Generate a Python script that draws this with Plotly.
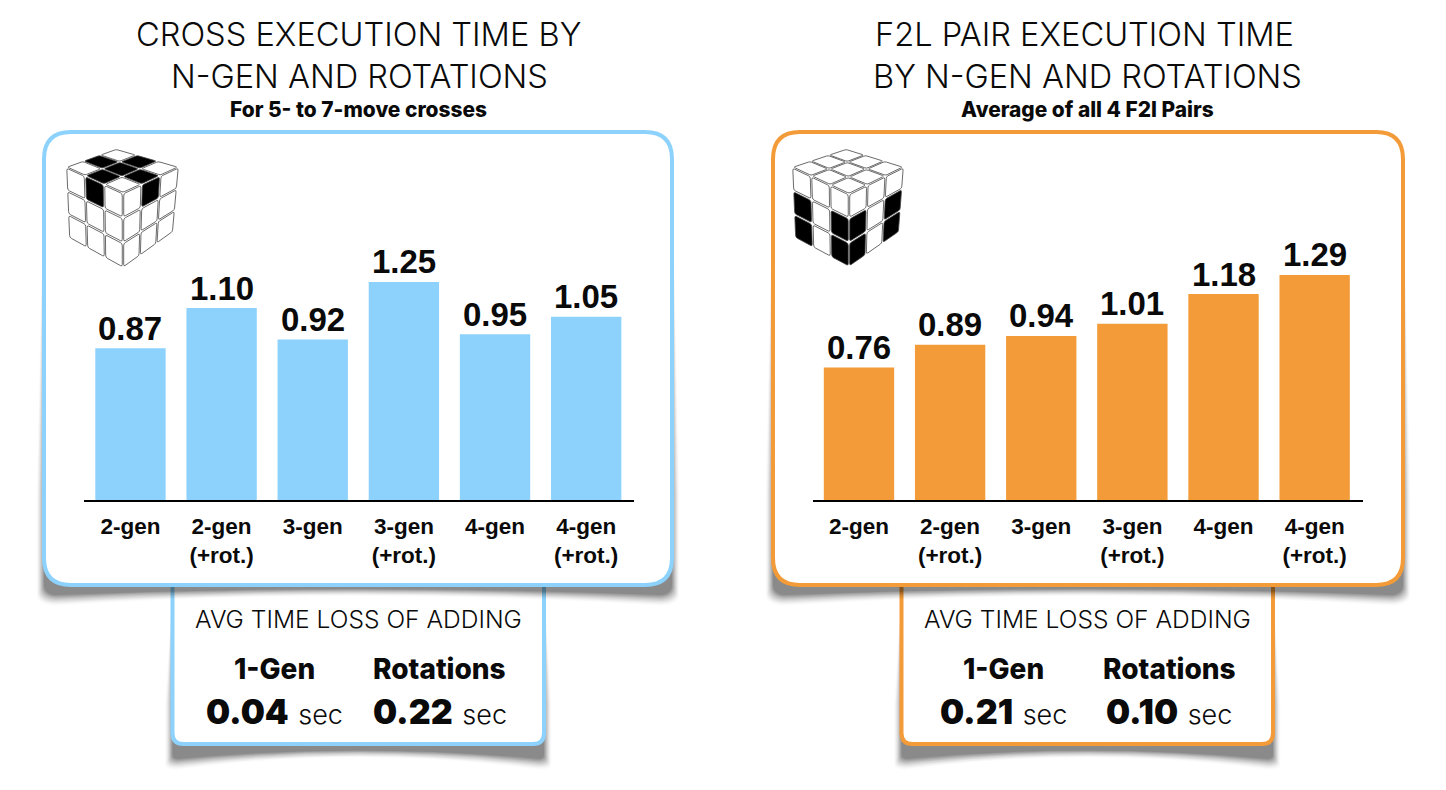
import plotly.graph_objects as go

W, H = 1446, 790

categories = ["2-gen", "2-gen<br>(+rot.)", "3-gen", "3-gen<br>(+rot.)", "4-gen", "4-gen<br>(+rot.)"]
cross_values = [0.87, 1.10, 0.92, 1.25, 0.95, 1.05]
f2l_values = [0.76, 0.89, 0.94, 1.01, 1.18, 1.29]
cross_title = ["CROSS EXECUTION TIME BY", "N-GEN AND ROTATIONS"]
f2l_title = ["F2L PAIR EXECUTION TIME", "BY N-GEN AND ROTATIONS"]
cross_subtitle = "For 5- to 7-move crosses"
f2l_subtitle = "Average of all 4 F2l Pairs"
loss_heading = "AVG TIME LOSS OF ADDING"
loss_labels = ["1-Gen", "Rotations"]
cross_loss = ["0.04", "0.22"]
f2l_loss = ["0.21", "0.10"]

BLUE = "#8dd2fc"
ORANGE = "#f39b38"
HEAD_FONT = "Inter"
BAR_FONT = "Liberation Sans"


def px(x):
    return x / W


def py(y):
    return 1 - y / H


def P(x, y):
    return f"{px(x):.5f},{py(y):.5f}"


def rrect(x0, y0, x1, y1, r):
    return (f"M{P(x0+r,y0)} L{P(x1-r,y0)} Q{P(x1,y0)} {P(x1,y0+r)} L{P(x1,y1-r)} Q{P(x1,y1)} {P(x1-r,y1)} "
            f"L{P(x0+r,y1)} Q{P(x0,y1)} {P(x0,y1-r)} L{P(x0,y0+r)} Q{P(x0,y0)} {P(x0+r,y0)} Z")


shapes = []
annotations = []


def shadow(x0, y0, x1, y1, drop, r, top_fade):
    cx = (x0 + x1) / 2
    steps = 10
    for i in range(steps):
        d = (steps - 1 - i) * 1.2
        dy = drop + d
        mid = y1 + 2 + d * 0.3
        path = (f"M{P(x0+r,y0+6)} L{P(x1-r,y0+6)} L{P(x1,y0+r)} L{P(x1+d*0.7,y1-top_fade)} L{P(x1+d*0.7,y1+dy-r*0.4)} "
                f"Q{P(x1+d*0.7,y1+dy)} {P(x1-r*0.5,y1+dy)} Q{P(cx,mid-4)} {P(x0+r*0.5,y1+dy)} "
                f"Q{P(x0-d*0.7,y1+dy)} {P(x0-d*0.7,y1+dy-r*0.4)} L{P(x0-d*0.7,y1-top_fade)} L{P(x0,y0+r)} Z")
        shapes.append(dict(type="path", xref="paper", yref="paper", path=path, layer="below",
                           fillcolor=f"rgba(0,0,0,{0.012 + 0.010 * i:.3f})", line=dict(width=0)))


def box(x0, y0, x1, y1, r, color, drop, top_fade):
    shadow(x0, y0, x1, y1, drop, r, top_fade)
    shapes.append(dict(type="path", xref="paper", yref="paper", path=rrect(x0, y0, x1, y1, r), layer="below",
                       fillcolor="white", line=dict(color=color, width=4)))


def text(x, y, s, size, family=HEAD_FONT, color="#0a0a0a", weight=400):
    annotations.append(dict(x=px(x), y=py(y), xref="paper", yref="paper", text=s, showarrow=False,
                            xanchor="center", yanchor="middle", align="center",
                            font=dict(family=family, size=size, color=color, weight=weight)))


def bil(q, u, v):
    tl, tr, br, bl = q
    return ((1-u)*(1-v)*tl[0] + u*(1-v)*tr[0] + u*v*br[0] + (1-u)*v*bl[0],
            (1-u)*(1-v)*tl[1] + u*(1-v)*tr[1] + u*v*br[1] + (1-u)*v*bl[1])


def sticker(q, c, r_, black):
    g = 0.04
    u0, u1 = (c + g) / 3, (c + 1 - g) / 3
    v0, v1 = (r_ + g) / 3, (r_ + 1 - g) / 3
    du, dv = 0.03, 0.03
    a = lambda u, v: P(*bil(q, u, v))
    path = (f"M{a(u0+du,v0)} L{a(u1-du,v0)} Q{a(u1,v0)} {a(u1,v0+dv)} L{a(u1,v1-dv)} Q{a(u1,v1)} {a(u1-du,v1)} "
            f"L{a(u0+du,v1)} Q{a(u0,v1)} {a(u0,v1-dv)} L{a(u0,v0+dv)} Q{a(u0,v0)} {a(u0+du,v0)} Z")
    shapes.append(dict(type="path", xref="paper", yref="paper", path=path, layer="above",
                       fillcolor="#000000" if black else "#ffffff",
                       line=dict(color="#444444", width=0.8)))


def cube(back, left, front, right, bl, fb, br, top_black, left_black, right_black):
    top_q = (back, right, front, left)
    left_q = (left, front, fb, bl)
    right_q = (front, right, br, fb)
    for q, blk in ((top_q, top_black), (left_q, left_black), (right_q, right_black)):
        for r_ in range(3):
            for c in range(3):
                sticker(q, c, r_, (r_, c) in blk)


def panel(x0, x1, cx, title_cx, color, title, subtitle, loss, cube_args):
    lx0, lx1 = x0 + 131, x0 + 502
    box(lx0 - 0.5, 575, lx1, 744, 11, color, 15, 40)
    box(x0 + 2, 132, x1 - 2, 585, 27, color, 10, 90)
    text(title_cx[0], 34, title[0], 32.6, weight=300)
    text(title_cx[1], 76, title[1], 32.6, weight=300)
    text(cx, 109, subtitle, 20.9, weight=800)
    text(cx, 619, loss_heading, 24.6, weight=300)
    for xc, lab, val in zip((x0 + 232.5, x0 + 398), loss_labels, loss):
        text(xc, 669, lab, 28, weight=800)
        text(xc, 711, f"<span style='font-weight:900'>{val}</span> <span style='font-size:27px;font-weight:300'>sec</span>", 34)
    cube(*cube_args)


panel(42, 674, 358.5, (358.5, 359.5), BLUE, cross_title, cross_subtitle, cross_loss,
      ((116, 149), (66, 167), (123, 193), (179, 167), (69, 238), (123, 268), (173, 232),
       {(0, 1), (1, 0), (1, 1), (1, 2), (2, 1)}, {(0, 1)}, {(0, 1)}))
panel(771, 1405, 1087.5, (1084, 1087), ORANGE, f2l_title, f2l_subtitle, f2l_loss,
      ((846, 149), (792, 167), (849, 194), (904, 167), (795, 238), (849, 267), (899, 232),
       set(), {(1, 0), (1, 2), (2, 0), (2, 2)}, {(1, 0), (1, 2), (2, 0), (2, 2)}))

fig = go.Figure()
fig.add_trace(go.Bar(x=categories, y=cross_values, marker=dict(color=BLUE, line=dict(width=0)),
                     xaxis="x", yaxis="y", hoverinfo="x+y"))
fig.add_trace(go.Bar(x=categories, y=f2l_values, marker=dict(color=ORANGE, line=dict(width=0)),
                     xaxis="x2", yaxis="y2", hoverinfo="x+y"))

for xr, yr, vals in (("x", "y", cross_values), ("x2", "y2", f2l_values)):
    for c, v in zip(categories, vals):
        annotations.append(dict(x=c, y=v, xref=xr, yref=yr, text=f"{v:.2f}", showarrow=False,
                                xanchor="center", yanchor="middle", yshift=20,
                                font=dict(family=BAR_FONT, size=33, color="#0a0a0a", weight="bold")))

ymax = (500 - 130) / 174.5
xax = dict(type="category", range=[-0.51, 5.525], showgrid=False, zeroline=False, showline=True,
           linecolor="#000000", linewidth=2, ticks="outside", ticklen=5, tickcolor="rgba(0,0,0,0)",
           tickfont=dict(family=BAR_FONT, size=22.5, color="#0a0a0a", weight="bold"), tickangle=0)
yax = dict(range=[0, ymax], visible=False, domain=[py(500), py(130)])
fig.update_layout(
    width=W, height=H, autosize=False, margin=dict(l=0, r=0, t=0, b=0),
    paper_bgcolor="white", plot_bgcolor="rgba(0,0,0,0)", showlegend=False, bargap=0.228,
    xaxis=dict(xax, domain=[px(84), px(634)], anchor="y"),
    xaxis2=dict(xax, domain=[px(812.5), px(1362.5)], anchor="y2"),
    yaxis=dict(yax, anchor="x"),
    yaxis2=dict(yax, anchor="x2"),
    shapes=shapes, annotations=annotations,
)
fig.write_html("out.html", config={"displayModeBar": False},
               post_script="document.body.style.margin='0';document.documentElement.style.overflow='hidden';")
